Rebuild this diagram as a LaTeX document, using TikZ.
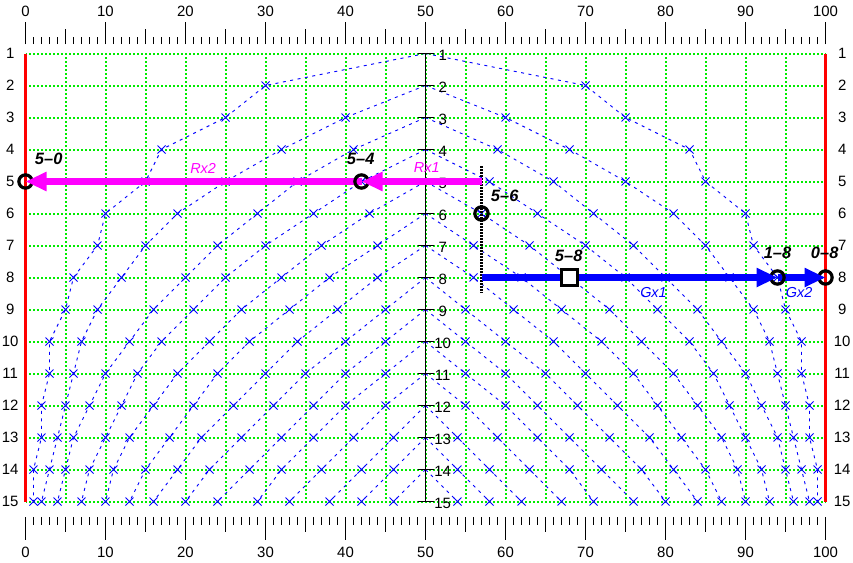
\documentclass[tikz,border=0pt]{standalone}
\usepackage{fontspec}
\setmainfont{Liberation Sans}
\usetikzlibrary{arrows.meta}
\definecolor{gridgreen}{RGB}{0,235,0}
\definecolor{mag}{RGB}{255,0,255}
\definecolor{cblue}{RGB}{0,0,255}
\tikzset{
  gridst/.style={draw=gridgreen, line width=1.5bp, dash pattern=on 2bp off 2bp, dash phase=0.5bp},
  curvest/.style={draw=cblue, line width=0.9bp, dash pattern=on 3bp off 4.5bp},
  markst/.style={draw=cblue, line width=0.9bp},
  xmark/.pic={\draw[markst] (-4bp,-4bp) -- (4bp,4bp) (-4bp,4bp) -- (4bp,-4bp);},
  tickst/.style={draw=black, line width=1bp},
  axlab/.style={font=\fontsize{15}{17}\selectfont, inner sep=0pt},
  ptlab/.style={font=\fontsize{16.5}{18}\selectfont\bfseries\itshape, inner sep=0pt},
  arrlab/.style={font=\fontsize{14.5}{16}\selectfont\itshape, inner sep=0pt},
  ringst/.style={circle, draw=black, line width=3.2bp, minimum size=13.3bp, inner sep=0pt},
  sqst/.style={rectangle, draw=black, fill=white, line width=3.3bp, minimum size=15.7bp, inner sep=0pt},
  arrst/.style={line width=7bp, -{Triangle[length=21bp,width=18bp]}},
}
\newcommand\mycurve[2]{%
  \draw[curvest] (50,#1) \foreach \x [count=\i] in {#2} { -- (\x,{#1+\i}) };
  \draw[curvest] (50,#1) \foreach \x [count=\i] in {#2} { -- ({100-\x},{#1+\i}) };
  \foreach \x [count=\i] in {#2} {
    \path (\x,{#1+\i}) pic {xmark};
    \path ({100-\x},{#1+\i}) pic {xmark};
  }
}
\begin{document}
\begin{tikzpicture}[x=8bp,y=-32bp]
\fill[white] (-3.1875,-0.671875) rectangle (103.4375,16.921875);
\useasboundingbox (-3.1875,-0.671875) rectangle (103.4375,16.921875);

% green grid
\foreach \r in {1,...,15} { \draw[gridst, yshift=-0.25bp] (0,\r) -- (100,\r); }
\foreach \u in {5,10,...,95} { \draw[gridst, xshift=0.25bp] (\u,1) -- (\u,15); }

% red borders
\draw[red, line width=3bp] (0,1) -- (0,15);
\draw[red, line width=3bp] (100,1) -- (100,15);

% curves
\mycurve{1}{30,25,17,15,10,9,6,5,3,3,2,2,1,1}
\mycurve{2}{40,32,25,19,15,12,9,7,6,5,4,3,2}
\mycurve{3}{41,34,29,24,20,16,13,10,8,6,5,4}
\mycurve{4}{42,36,30,25,21,17,14,12,10,8,7}
\mycurve{5}{43,37,32,27,23,19,16,13,11,10}
\mycurve{6}{44,38,33,28,24,21,18,15,13}
\mycurve{7}{44,39,34,30,26,22,19,16}
\mycurve{8}{45,40,35,31,27,23,20}
\mycurve{9}{45,40,36,32,28,24}
\mycurve{10}{45,40,36,32,29}
\mycurve{11}{45,41,37,33}
\mycurve{12}{46,42,38}
\mycurve{13}{46,42}
\mycurve{14}{46}

% centre axis
\draw[black, line width=1.2bp] (50,1) -- (50,15);
\foreach \r in {1,...,15} {
  \draw[black, line width=1.2bp] (49,\r) -- (51,\r);
  \node[axlab, yshift=-1.5bp] at (52.15,\r) {\r};
  \node[axlab] at (-1.91,\r) {\r};
  \node[axlab] at (102.09,\r) {\r};
}

% top and bottom scales
\foreach \u in {0,...,100} {
  \draw[tickst] (\u,1) ++(0,9.5bp) -- ++(0,7bp);
  \draw[tickst] (\u,15) ++(0,-15.5bp) -- ++(0,-8bp);
}
\foreach \u in {5,15,...,95} {
  \draw[tickst] (\u,1) ++(0,9.5bp) -- ++(0,15bp);
  \draw[tickst] (\u,15) ++(0,-15.5bp) -- ++(0,-15bp);
}
\foreach \u in {0,10,...,100} {
  \draw[tickst] (\u,1) ++(0,9.5bp) -- ++(0,22bp);
  \draw[tickst] (\u,15) ++(0,-15.5bp) -- ++(0,-23bp);
  \node[axlab, yshift=42.2bp] at (\u,1) {\u};
  \node[axlab, yshift=-50.5bp] at (\u,15) {\u};
}

% dotted marker line
\coordinate (dtop) at (57,4.53);
\coordinate (dbot) at (57,8.48);
\draw[black, line width=2.2bp, dash pattern=on 1.5bp off 1.5bp] (dtop) -- (dbot);

% points
\coordinate (rxstart) at (57,5);
\coordinate (gxstart) at (57,8);
\node[ringst] (p50) at (0,5) {};
\node[ringst] (p08) at (100,8) {};
\node[ringst] (p56) at (57,6) {};
\draw[mag, arrst] (42,5) -- (p50.center);
\draw[cblue, arrst] (94,8) -- (p08.center);
\node[ringst] (p54) at (42,5) {};
\node[ringst] (p18) at (94,8) {};
\draw[mag, arrst] (rxstart) -- (p54.center);
\draw[cblue, arrst] (gxstart) -- (p18.center);
\node[sqst] (p58) at (68,8) {};

% labels
\node[ptlab, yshift=22.2bp] (l50) at (2.9,5) {5\textendash 0};
\node[ptlab, yshift=22.4bp] (l54) at (41.9,5) {5\textendash 4};
\node[ptlab, yshift=17.9bp] (l56) at (59.9,6) {5\textendash 6};
\node[ptlab, yshift=21.5bp] (l58) at (67.9,8) {5\textendash 8};
\node[ptlab, yshift=25bp] (l18) at (94,8) {1\textendash 8};
\node[ptlab, yshift=25bp] (l08) at (99.9,8) {0\textendash 8};
\node[arrlab, text=mag, yshift=13.5bp] (rx1) at (50.15,5) {Rx1};
\node[arrlab, text=mag, yshift=13.5bp] (rx2) at (22.2,5) {Rx2};
\node[arrlab, text=cblue, yshift=-14.7bp] (gx1) at (78.5,8) {Gx1};
\node[arrlab, text=cblue, yshift=-14.7bp] (gx2) at (96.7,8) {Gx2};
\end{tikzpicture}
\end{document}
